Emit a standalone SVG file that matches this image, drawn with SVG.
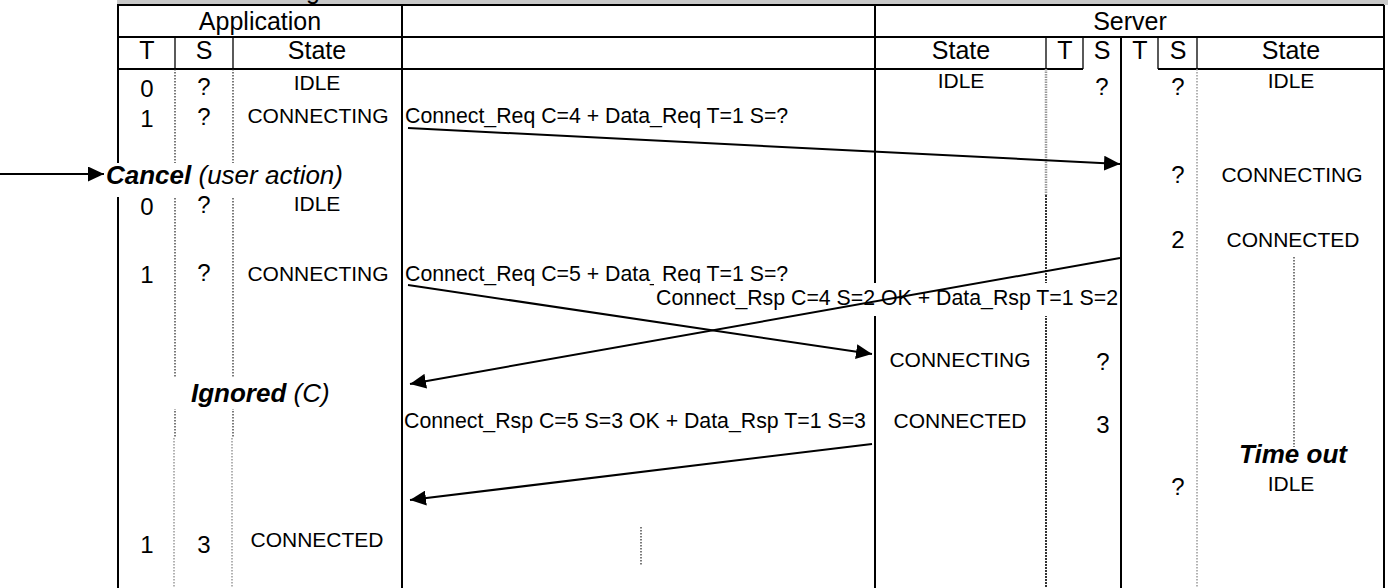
<svg xmlns="http://www.w3.org/2000/svg" width="1388" height="588" viewBox="0 0 1388 588">
<defs>
<marker id="ah" viewBox="0 0 16 15" refX="16" refY="7.5" markerWidth="16" markerHeight="15" markerUnits="userSpaceOnUse" orient="auto"><path d="M0,0 L16,7.5 L0,15 z" fill="#000"/></marker>
<style>
text{font-family:"Liberation Sans",Arial,sans-serif;fill:#000}
.hd{font-size:25px;text-anchor:middle}
.dg{font-size:24px;text-anchor:middle}
.st{font-size:21px;text-anchor:middle}
.msg{font-size:21.3px}
.em{font-size:26px;font-style:italic}
.b{font-weight:bold}
.frame{stroke:#000;stroke-width:2;fill:none}
.thin{stroke:#000;stroke-width:1.3;fill:none}
.dot{stroke:#222;stroke-width:1.2;stroke-dasharray:1.5 1.5;fill:none}
.dotg{stroke:#999;stroke-width:1.5;stroke-dasharray:1.5 1.5;fill:none}
.dotw{stroke:#999;stroke-width:2.5;stroke-dasharray:1.5 1;fill:none}
.dotk{stroke:#333;stroke-width:2;stroke-dasharray:2 1;fill:none}
.arr{stroke:#000;stroke-width:2;fill:none;marker-end:url(#ah)}
</style>
</defs>
<rect x="0" y="0" width="1388" height="588" fill="#fff"/>
<rect x="117" y="0" width="1271" height="5" fill="#c8c8c8"/>
<text x="306" y="-1" style="font-size:25px">g</text>

<g id="table">
<line class="frame" x1="117" y1="5" x2="1384" y2="5"/>
<line class="frame" x1="118" y1="5" x2="118" y2="588"/>
<line class="frame" x1="1384" y1="5" x2="1384" y2="588"/>
<line class="frame" x1="118" y1="37" x2="1384" y2="37"/>
<line class="frame" x1="118" y1="69" x2="1083" y2="69"/>
<line class="frame" x1="1158" y1="69" x2="1384" y2="69"/>
<line class="thin" x1="175" y1="37" x2="175" y2="69"/>
<line class="thin" x1="233" y1="37" x2="233" y2="69"/>
<line class="thin" x1="1046" y1="37" x2="1046" y2="69"/>
<line class="thin" x1="1083" y1="37" x2="1083" y2="69"/>
<line class="thin" x1="1158" y1="37" x2="1158" y2="69"/>
<line class="thin" x1="1197" y1="37" x2="1197" y2="69"/>
</g>

<g id="lifelines">
<line class="frame" x1="402" y1="5" x2="402" y2="588"/>
<line class="frame" x1="875" y1="5" x2="875" y2="588"/>
<line class="frame" x1="1121" y1="37" x2="1121" y2="588"/>
<line class="dot" x1="175" y1="69" x2="175" y2="438"/>
<line class="dotg" x1="174" y1="438" x2="174" y2="588"/>
<line class="dot" x1="233" y1="69" x2="233" y2="438"/>
<line class="dotg" x1="232" y1="438" x2="232" y2="588"/>
<line class="dotw" x1="1046" y1="69" x2="1046" y2="195"/>
<line class="dotk" x1="1046" y1="195" x2="1046" y2="588"/>
<line class="dotg" x1="1197" y1="69" x2="1197" y2="588"/>
<line class="dot" x1="1294" y1="257" x2="1294" y2="447"/>
<line class="dot" x1="641" y1="527" x2="641" y2="565"/>
</g>

<g id="header">
<text class="hd" x="260" y="30">Application</text>
<text class="hd" x="1130" y="30">Server</text>
<text class="hd" x="147" y="59">T</text>
<text class="hd" x="204" y="59">S</text>
<text class="hd" x="317" y="59">State</text>
<text class="hd" x="961" y="59">State</text>
<text class="hd" x="1065" y="59">T</text>
<text class="hd" x="1102" y="59">S</text>
<text class="hd" x="1140" y="59">T</text>
<text class="hd" x="1178" y="59">S</text>
<text class="hd" x="1291" y="59">State</text>
</g>

<g id="app">
<text class="dg" x="147" y="97">0</text>
<text class="dg" x="204" y="95">?</text>
<text class="st" x="317" y="90">IDLE</text>
<text class="dg" x="147" y="127">1</text>
<text class="dg" x="204" y="125">?</text>
<text class="st" x="318" y="123">CONNECTING</text>
<rect x="104" y="163" width="258" height="34" fill="#fff"/>
<text class="em" x="106" y="184"><tspan class="b">Cancel</tspan> (user action)</text>
<text class="dg" x="147" y="215">0</text>
<text class="dg" x="204" y="213">?</text>
<text class="st" x="317" y="211">IDLE</text>
<text class="dg" x="147" y="283">1</text>
<text class="dg" x="204" y="281">?</text>
<text class="st" x="318" y="281">CONNECTING</text>
<rect x="165" y="377" width="175" height="32" fill="#fff"/>
<text class="em" x="191" y="402"><tspan class="b">Ignored</tspan> (C)</text>
<text class="dg" x="147" y="553">1</text>
<text class="dg" x="204" y="553">3</text>
<text class="st" x="317" y="547">CONNECTED</text>
</g>

<g id="server">
<text class="st" x="961" y="88">IDLE</text>
<text class="dg" x="1102" y="95">?</text>
<text class="dg" x="1178" y="95">?</text>
<text class="st" x="1291" y="88">IDLE</text>
<text class="dg" x="1178" y="183">?</text>
<text class="st" x="1292" y="182">CONNECTING</text>
<text class="dg" x="1178" y="248">2</text>
<text class="st" x="1293" y="247">CONNECTED</text>
<text class="st" x="960" y="367">CONNECTING</text>
<text class="dg" x="1103" y="370">?</text>
<text class="st" x="960" y="428">CONNECTED</text>
<text class="dg" x="1103" y="433">3</text>
<text class="em b" x="1293" y="463" style="text-anchor:middle">Time out</text>
<text class="st" x="1291" y="491">IDLE</text>
<text class="dg" x="1178" y="495">?</text>
</g>

<g id="messages">
<text class="msg" x="405" y="123">Connect_Req C=4 + Data_Req T=1 S=?</text>
<text class="msg" x="405" y="281">Connect_Req C=5 + Data_Req T=1 S=?</text>
<rect x="654" y="283" width="465" height="33" fill="#fff"/>
<text class="msg" x="1118" y="305" style="text-anchor:end">Connect_Rsp C=4 S=2 OK + Data_Rsp T=1 S=2</text>
<text class="msg" x="404" y="428">Connect_Rsp C=5 S=3 OK + Data_Rsp T=1 S=3</text>
</g>

<g id="connectors">
<line class="arr" x1="0" y1="174" x2="104" y2="174"/>
<line class="arr" x1="408" y1="128" x2="1120" y2="164"/>
<line class="arr" x1="408" y1="285" x2="872" y2="354"/>
<line class="arr" x1="1120" y1="258" x2="410" y2="384"/>
<line class="arr" x1="872" y1="444" x2="410" y2="500"/>
</g>
</svg>
